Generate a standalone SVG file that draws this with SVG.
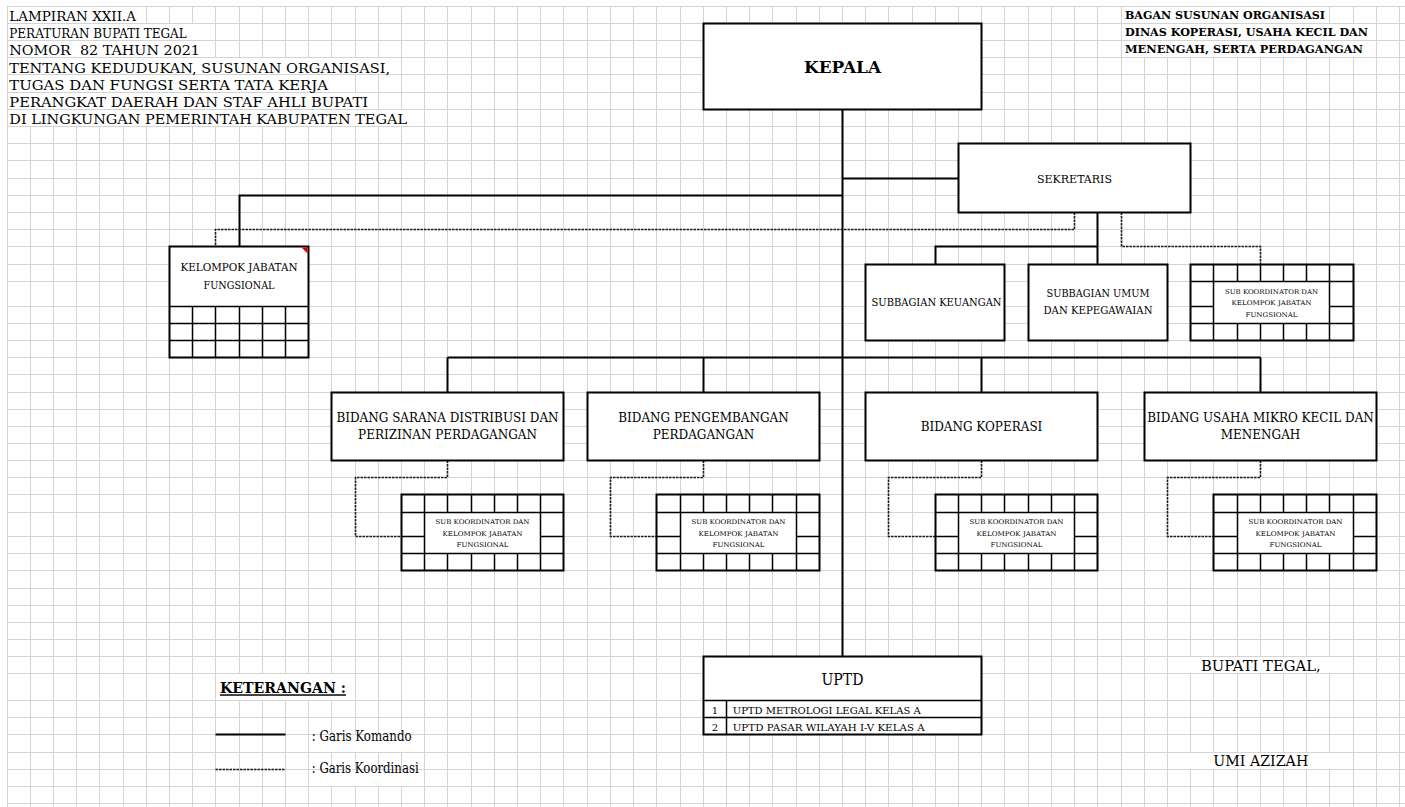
<svg xmlns="http://www.w3.org/2000/svg" width="1405" height="807" viewBox="0 0 1405 807">
<style>
.grid{stroke:#d4d4d4;stroke-width:1;fill:none}
.mask{fill:#fff}
.box{fill:#fff;stroke:#000;stroke-width:2}
.cell{fill:none;stroke:#000;stroke-width:1.5}
.cmd{fill:none;stroke:#000;stroke-width:2}
.crd{fill:none;stroke:#1a1a1a;stroke-width:1.6;stroke-dasharray:2.5 1}
text{font-family:"DejaVu Serif","Liberation Serif",serif;fill:#000}
.hd{font-size:13.5px}
.hb{font-size:10.5px;font-weight:bold}
.mid{text-anchor:middle}
.b12{font-size:12px}
.sk{font-size:6.5px}
.sb{font-size:11.5px}
.up{font-size:10px}
</style>
<rect width="1405" height="807" fill="#fff"/>
<path class="grid" d="M7.5 6.5V807M30.5 6.5V807M53.5 6.5V807M76.5 6.5V807M99.5 6.5V807M123.5 6.5V807M146.5 6.5V807M169.5 6.5V807M192.5 6.5V807M215.5 6.5V807M239.5 6.5V807M262.5 6.5V807M285.5 6.5V807M308.5 6.5V807M331.5 6.5V807M355.5 6.5V807M378.5 6.5V807M401.5 6.5V807M424.5 6.5V807M447.5 6.5V807M471.5 6.5V807M494.5 6.5V807M517.5 6.5V807M540.5 6.5V807M563.5 6.5V807M587.5 6.5V807M610.5 6.5V807M633.5 6.5V807M656.5 6.5V807M680.5 6.5V807M703.5 6.5V807M726.5 6.5V807M749.5 6.5V807M772.5 6.5V807M796.5 6.5V807M819.5 6.5V807M842.5 6.5V807M865.5 6.5V807M888.5 6.5V807M912.5 6.5V807M935.5 6.5V807M958.5 6.5V807M981.5 6.5V807M1004.5 6.5V807M1028.5 6.5V807M1051.5 6.5V807M1074.5 6.5V807M1097.5 6.5V807M1121.5 6.5V807M1144.5 6.5V807M1167.5 6.5V807M1190.5 6.5V807M1213.5 6.5V807M1237.5 6.5V807M1260.5 6.5V807M1283.5 6.5V807M1306.5 6.5V807M1329.5 6.5V807M1353.5 6.5V807M1376.5 6.5V807M1399.5 6.5V807
M7 6.5H1405M7 23.5H1405M7 40.5H1405M7 57.5H1405M7 74.5H1405M7 92.5H1405M7 109.5H1405M7 126.5H1405M7 143.5H1405M7 160.5H1405M7 178.5H1405M7 195.5H1405M7 212.5H1405M7 229.5H1405M7 246.5H1405M7 264.5H1405M7 281.5H1405M7 306.5H1405M7 323.5H1405M7 340.5H1405M7 357.5H1405M7 374.5H1405M7 392.5H1405M7 409.5H1405M7 426.5H1405M7 443.5H1405M7 460.5H1405M7 477.5H1405M7 494.5H1405M7 512.5H1405M7 536.5H1405M7 553.5H1405M7 570.5H1405M7 588.5H1405M7 605.5H1405M7 622.5H1405M7 639.5H1405M7 656.5H1405M7 673.5H1405M7 700.5H1405M7 717.5H1405M7 734.5H1405M7 752.5H1405M7 769.5H1405M7 786.5H1405M7 803.5H1405"/>
<g id="grid-masks">
<rect class="mask" x="8" y="7" width="134" height="16"/>
<rect class="mask" x="8" y="24" width="190" height="16"/>
<rect class="mask" x="8" y="41" width="202" height="16"/>
<rect class="mask" x="8" y="58" width="392" height="16"/>
<rect class="mask" x="8" y="75" width="330" height="17"/>
<rect class="mask" x="8" y="93" width="367" height="16"/>
<rect class="mask" x="8" y="110" width="410" height="16"/>
<rect class="mask" x="1123" y="7" width="205" height="16"/>
<rect class="mask" x="1123" y="24" width="251" height="16"/>
<rect class="mask" x="1123" y="41" width="246" height="16"/>
<rect class="mask" x="217" y="674" width="135" height="26"/>
<rect class="mask" x="309" y="735" width="111" height="17"/>
<rect class="mask" x="309" y="770" width="113" height="16"/>
<rect class="mask" x="1168" y="657" width="185" height="16"/>
<rect class="mask" x="1168" y="753" width="185" height="16"/>
</g>
<g id="header-left">
<text class="hd" x="9.3" y="21" textLength="126.7" lengthAdjust="spacingAndGlyphs">LAMPIRAN XXII.A</text>
<text class="hd" x="9.3" y="38.3" textLength="177.4" lengthAdjust="spacingAndGlyphs">PERATURAN BUPATI TEGAL</text>
<text class="hd" x="9.3" y="55.3" textLength="190.7" lengthAdjust="spacingAndGlyphs" xml:space="preserve">NOMOR  82 TAHUN 2021</text>
<text class="hd" x="9.3" y="72.7" textLength="380.7" lengthAdjust="spacingAndGlyphs">TENTANG KEDUDUKAN, SUSUNAN ORGANISASI,</text>
<text class="hd" x="9.3" y="90" textLength="318.7" lengthAdjust="spacingAndGlyphs">TUGAS DAN FUNGSI SERTA TATA KERJA</text>
<text class="hd" x="9.3" y="107.3" textLength="358.7" lengthAdjust="spacingAndGlyphs">PERANGKAT DAERAH DAN STAF AHLI BUPATI</text>
<text class="hd" x="9.3" y="124" textLength="397.7" lengthAdjust="spacingAndGlyphs">DI LINGKUNGAN PEMERINTAH KABUPATEN TEGAL</text>
</g>
<g id="header-right">
<text class="hb" x="1125" y="19" textLength="200" lengthAdjust="spacingAndGlyphs">BAGAN SUSUNAN ORGANISASI</text>
<text class="hb" x="1125" y="36" textLength="243" lengthAdjust="spacingAndGlyphs">DINAS KOPERASI, USAHA KECIL DAN</text>
<text class="hb" x="1125" y="53.3" textLength="238" lengthAdjust="spacingAndGlyphs">MENENGAH, SERTA PERDAGANGAN</text>
</g>
<g id="connectors">
<path class="cmd" d="M842.5 109.5V656.5M842.5 178.5H958.5M842.5 195.5H239.5V246.5M1097.5 212.5V264.5M1097.5 246.5H935.5V264.5M447.5 357.5H1260.5M447.5 357.5V392.5M703.5 357.5V392.5M981.5 357.5V392.5M1260.5 357.5V392.5"/>
<path class="crd" d="M1074.5 212.5V229.5H215.5V246.5M1121.5 212.5V246.5H1260.5V264.5M447.5 460.5V477.5H355.5V536.5H401.5M703.5 460.5V477.5H610.5V536.5H656.5M981.5 460.5V477.5H888.5V536.5H935.5M1260.5 460.5V477.5H1167.5V536.5H1213.5"/>
</g>
<g id="kepala">
<rect class="box" x="703.5" y="23.5" width="278" height="86"/>
<text class="mid" x="842.5" y="73.3" font-size="17.5" font-weight="bold" textLength="77" lengthAdjust="spacingAndGlyphs">KEPALA</text>
</g>
<g id="sekretaris">
<rect class="box" x="958.5" y="143.5" width="232" height="69"/>
<text class="mid" x="1074.5" y="183" font-size="11">SEKRETARIS</text>
</g>
<g id="kelompok-jabatan-fungsional">
<rect class="box" x="169.5" y="246.5" width="139" height="111"/>
<path class="cell" d="M169.5 306.5H308.5M169.5 323.5H308.5M169.5 340.5H308.5M192.5 306.5V357.5M215.5 306.5V357.5M239.5 306.5V357.5M262.5 306.5V357.5M285.5 306.5V357.5"/>
<polygon points="301.5,247.5 307.5,247.5 307.5,253.5" fill="#e00000"/>
<text class="mid" x="239" y="270.7" font-size="10.5" textLength="117" lengthAdjust="spacingAndGlyphs">KELOMPOK JABATAN</text>
<text class="mid" x="239" y="289" font-size="10.5" textLength="71" lengthAdjust="spacingAndGlyphs">FUNGSIONAL</text>
</g>
<g id="subbagian-keuangan">
<rect class="box" x="865.5" y="264.5" width="139" height="76"/>
<text class="sb mid" x="936.5" y="306" textLength="130" lengthAdjust="spacingAndGlyphs">SUBBAGIAN KEUANGAN</text>
</g>
<g id="subbagian-umum">
<rect class="box" x="1028.5" y="264.5" width="139" height="76"/>
<text class="sb mid" x="1098" y="296.7" textLength="103" lengthAdjust="spacingAndGlyphs">SUBBAGIAN UMUM</text>
<text class="sb mid" x="1098" y="314.3" textLength="109" lengthAdjust="spacingAndGlyphs">DAN KEPEGAWAIAN</text>
</g>
<g id="subkoor-sekretariat">
<rect class="box" x="1190.5" y="264.5" width="163" height="76"/>
<path class="cell" d="M1190.5 281.5H1353.5M1190.5 323.5H1353.5M1213.5 264.5V340.5M1329.5 264.5V340.5M1237.5 264.5V281.5M1260.5 264.5V281.5M1283.5 264.5V281.5M1306.5 264.5V281.5M1237.5 323.5V340.5M1260.5 323.5V340.5M1283.5 323.5V340.5M1306.5 323.5V340.5M1190.5 306.5H1213.5M1329.5 306.5H1353.5"/>
<text class="sk mid" x="1271.5" y="294.3" textLength="93" lengthAdjust="spacingAndGlyphs">SUB KOORDINATOR DAN</text>
<text class="sk mid" x="1271.5" y="305" textLength="80" lengthAdjust="spacingAndGlyphs">KELOMPOK JABATAN</text>
<text class="sk mid" x="1271.5" y="316.7" textLength="52" lengthAdjust="spacingAndGlyphs">FUNGSIONAL</text>
</g>
<g id="bidang-sarana">
<rect class="box" x="331.5" y="392.5" width="232" height="68"/>
<text class="b12 mid" x="447.5" y="421.7">BIDANG SARANA DISTRIBUSI DAN</text>
<text class="b12 mid" x="447.5" y="439.3">PERIZINAN PERDAGANGAN</text>
</g>
<g id="bidang-pengembangan">
<rect class="box" x="587.5" y="392.5" width="232" height="68"/>
<text class="b12 mid" x="703.5" y="421.7">BIDANG PENGEMBANGAN</text>
<text class="b12 mid" x="703.5" y="439.3">PERDAGANGAN</text>
</g>
<g id="bidang-koperasi">
<rect class="box" x="865.5" y="392.5" width="232" height="68"/>
<text class="b12 mid" x="981.5" y="431">BIDANG KOPERASI</text>
</g>
<g id="bidang-umkm">
<rect class="box" x="1144.5" y="392.5" width="232" height="68"/>
<text class="b12 mid" x="1260.5" y="421.7">BIDANG USAHA MIKRO KECIL DAN</text>
<text class="b12 mid" x="1260.5" y="439.3">MENENGAH</text>
</g>
<g id="subkoor-1">
<rect class="box" x="401.5" y="494.5" width="162" height="76"/>
<path class="cell" d="M401.5 512.5H563.5M401.5 553.5H563.5M424.5 494.5V570.5M540.5 494.5V570.5M447.5 494.5V512.5M471.5 494.5V512.5M494.5 494.5V512.5M517.5 494.5V512.5M447.5 553.5V570.5M471.5 553.5V570.5M494.5 553.5V570.5M517.5 553.5V570.5M401.5 536.5H424.5M540.5 536.5H563.5"/>
<text class="sk mid" x="482.5" y="524.3" textLength="94" lengthAdjust="spacingAndGlyphs">SUB KOORDINATOR DAN</text>
<text class="sk mid" x="482.5" y="535.7" textLength="80" lengthAdjust="spacingAndGlyphs">KELOMPOK JABATAN</text>
<text class="sk mid" x="482.5" y="546.7" textLength="52" lengthAdjust="spacingAndGlyphs">FUNGSIONAL</text>
</g>
<g id="subkoor-2">
<rect class="box" x="656.5" y="494.5" width="163" height="76"/>
<path class="cell" d="M656.5 512.5H819.5M656.5 553.5H819.5M680.5 494.5V570.5M796.5 494.5V570.5M703.5 494.5V512.5M726.5 494.5V512.5M749.5 494.5V512.5M772.5 494.5V512.5M703.5 553.5V570.5M726.5 553.5V570.5M749.5 553.5V570.5M772.5 553.5V570.5M656.5 536.5H680.5M796.5 536.5H819.5"/>
<text class="sk mid" x="738.5" y="524.3" textLength="94" lengthAdjust="spacingAndGlyphs">SUB KOORDINATOR DAN</text>
<text class="sk mid" x="738.5" y="535.7" textLength="80" lengthAdjust="spacingAndGlyphs">KELOMPOK JABATAN</text>
<text class="sk mid" x="738.5" y="546.7" textLength="52" lengthAdjust="spacingAndGlyphs">FUNGSIONAL</text>
</g>
<g id="subkoor-3">
<rect class="box" x="935.5" y="494.5" width="162" height="76"/>
<path class="cell" d="M935.5 512.5H1097.5M935.5 553.5H1097.5M958.5 494.5V570.5M1074.5 494.5V570.5M981.5 494.5V512.5M1004.5 494.5V512.5M1028.5 494.5V512.5M1051.5 494.5V512.5M981.5 553.5V570.5M1004.5 553.5V570.5M1028.5 553.5V570.5M1051.5 553.5V570.5M935.5 536.5H958.5M1074.5 536.5H1097.5"/>
<text class="sk mid" x="1016.5" y="524.3" textLength="94" lengthAdjust="spacingAndGlyphs">SUB KOORDINATOR DAN</text>
<text class="sk mid" x="1016.5" y="535.7" textLength="80" lengthAdjust="spacingAndGlyphs">KELOMPOK JABATAN</text>
<text class="sk mid" x="1016.5" y="546.7" textLength="52" lengthAdjust="spacingAndGlyphs">FUNGSIONAL</text>
</g>
<g id="subkoor-4">
<rect class="box" x="1213.5" y="494.5" width="163" height="76"/>
<path class="cell" d="M1213.5 512.5H1376.5M1213.5 553.5H1376.5M1237.5 494.5V570.5M1353.5 494.5V570.5M1260.5 494.5V512.5M1283.5 494.5V512.5M1306.5 494.5V512.5M1329.5 494.5V512.5M1260.5 553.5V570.5M1283.5 553.5V570.5M1306.5 553.5V570.5M1329.5 553.5V570.5M1213.5 536.5H1237.5M1353.5 536.5H1376.5"/>
<text class="sk mid" x="1295.5" y="524.3" textLength="94" lengthAdjust="spacingAndGlyphs">SUB KOORDINATOR DAN</text>
<text class="sk mid" x="1295.5" y="535.7" textLength="80" lengthAdjust="spacingAndGlyphs">KELOMPOK JABATAN</text>
<text class="sk mid" x="1295.5" y="546.7" textLength="52" lengthAdjust="spacingAndGlyphs">FUNGSIONAL</text>
</g>
<g id="uptd">
<rect class="box" x="703.5" y="656.5" width="278" height="78"/>
<path class="cell" d="M703.5 700.5H981.5M703.5 717.5H981.5M726.5 700.5V734.5"/>
<text class="mid" x="842.5" y="685" font-size="16" textLength="42" lengthAdjust="spacingAndGlyphs">UPTD</text>
<text class="up mid" x="715" y="714">1</text>
<text class="up" x="732.7" y="714" textLength="188" lengthAdjust="spacingAndGlyphs">UPTD METROLOGI LEGAL KELAS A</text>
<text class="up mid" x="715" y="731">2</text>
<text class="up" x="732.7" y="731" textLength="192" lengthAdjust="spacingAndGlyphs">UPTD PASAR WILAYAH I-V KELAS A</text>
</g>
<g id="keterangan">
<text x="220" y="693.3" font-size="14.5" font-weight="bold" text-decoration="underline" textLength="126" lengthAdjust="spacingAndGlyphs">KETERANGAN :</text>
<path class="cmd" d="M215.5 734.5H285.5"/>
<path class="crd" d="M215.5 769.5H285.5"/>
<text x="311.7" y="741" font-size="14" textLength="100" lengthAdjust="spacingAndGlyphs">: Garis Komando</text>
<text x="311.7" y="773.3" font-size="14" textLength="107" lengthAdjust="spacingAndGlyphs">: Garis Koordinasi</text>
</g>
<g id="pengesahan">
<text x="1201" y="671" font-size="15.5" textLength="119.7" lengthAdjust="spacingAndGlyphs">BUPATI TEGAL,</text>
<text x="1213.3" y="766" font-size="15.5" textLength="95" lengthAdjust="spacingAndGlyphs">UMI AZIZAH</text>
</g>
</svg>
